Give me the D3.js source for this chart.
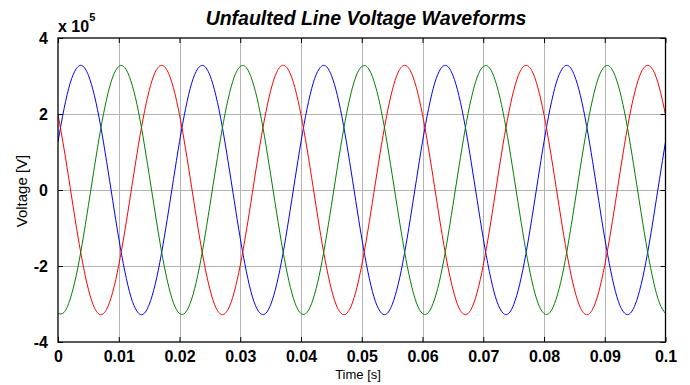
<!DOCTYPE html>
<html>
<head>
<meta charset="utf-8">
<script src="https://cdn.jsdelivr.net/npm/d3@7"></script>
<style>
  html, body { margin: 0; padding: 0; background: #ffffff; }
  svg { display: block; }
</style>
</head>
<body>
<svg id="chart" width="690" height="385"></svg>
<script>
// ---- data (voltage in units of 1e5 V, sampled every 1 ms from t = 0 to 0.1 s) ----
const sampleStep = 0.001;
const phaseA = [
  1.27, 2.14, 2.81, 3.19, 3.27, 3.02, 2.48, 1.70, 0.75, -0.27, -1.27, -2.14, -2.81, -3.19, -3.27, -3.02, -2.48, -1.70, -0.75, 0.27,
  1.27, 2.14, 2.81, 3.19, 3.27, 3.02, 2.48, 1.70, 0.75, -0.27, -1.27, -2.14, -2.81, -3.19, -3.27, -3.02, -2.48, -1.70, -0.75, 0.27,
  1.27, 2.14, 2.81, 3.19, 3.27, 3.02, 2.48, 1.70, 0.75, -0.27, -1.27, -2.14, -2.81, -3.19, -3.27, -3.02, -2.48, -1.70, -0.75, 0.27,
  1.27, 2.14, 2.81, 3.19, 3.27, 3.02, 2.48, 1.70, 0.75, -0.27, -1.27, -2.14, -2.81, -3.19, -3.27, -3.02, -2.48, -1.70, -0.75, 0.27,
  1.27, 2.14, 2.81, 3.19, 3.27, 3.02, 2.48, 1.70, 0.75, -0.27, -1.27, -2.14, -2.81, -3.19, -3.27, -3.02, -2.48, -1.70, -0.75, 0.27,
  1.27
];
const phaseB = [
  1.98, 1.08, 0.07, -0.95, -1.87, -2.61, -3.10, -3.28, -3.14, -2.69, -1.98, -1.08, -0.07, 0.95, 1.87, 2.61, 3.10, 3.28, 3.14, 2.69,
  1.98, 1.08, 0.07, -0.95, -1.87, -2.61, -3.10, -3.28, -3.14, -2.69, -1.98, -1.08, -0.07, 0.95, 1.87, 2.61, 3.10, 3.28, 3.14, 2.69,
  1.98, 1.08, 0.07, -0.95, -1.87, -2.61, -3.10, -3.28, -3.14, -2.69, -1.98, -1.08, -0.07, 0.95, 1.87, 2.61, 3.10, 3.28, 3.14, 2.69,
  1.98, 1.08, 0.07, -0.95, -1.87, -2.61, -3.10, -3.28, -3.14, -2.69, -1.98, -1.08, -0.07, 0.95, 1.87, 2.61, 3.10, 3.28, 3.14, 2.69,
  1.98, 1.08, 0.07, -0.95, -1.87, -2.61, -3.10, -3.28, -3.14, -2.69, -1.98, -1.08, -0.07, 0.95, 1.87, 2.61, 3.10, 3.28, 3.14, 2.69,
  1.98
];
const phaseC = [
  -3.25, -3.22, -2.87, -2.25, -1.40, -0.41, 0.61, 1.58, 2.39, 2.97, 3.25, 3.22, 2.87, 2.25, 1.40, 0.41, -0.61, -1.58, -2.39, -2.97,
  -3.25, -3.22, -2.87, -2.25, -1.40, -0.41, 0.61, 1.58, 2.39, 2.97, 3.25, 3.22, 2.87, 2.25, 1.40, 0.41, -0.61, -1.58, -2.39, -2.97,
  -3.25, -3.22, -2.87, -2.25, -1.40, -0.41, 0.61, 1.58, 2.39, 2.97, 3.25, 3.22, 2.87, 2.25, 1.40, 0.41, -0.61, -1.58, -2.39, -2.97,
  -3.25, -3.22, -2.87, -2.25, -1.40, -0.41, 0.61, 1.58, 2.39, 2.97, 3.25, 3.22, 2.87, 2.25, 1.40, 0.41, -0.61, -1.58, -2.39, -2.97,
  -3.25, -3.22, -2.87, -2.25, -1.40, -0.41, 0.61, 1.58, 2.39, 2.97, 3.25, 3.22, 2.87, 2.25, 1.40, 0.41, -0.61, -1.58, -2.39, -2.97,
  -3.25
];
const xTicks = [0, 0.01, 0.02, 0.03, 0.04, 0.05, 0.06, 0.07, 0.08, 0.09, 0.1];
const xTickLabels = ["0", "0.01", "0.02", "0.03", "0.04", "0.05", "0.06", "0.07", "0.08", "0.09", "0.1"];
const yTicks = [-4, -2, 0, 2, 4];
const yTickLabels = ["-4", "-2", "0", "2", "4"];
const titleText = "Unfaulted Line Voltage Waveforms";
const xLabelText = "Time [s]";
const yLabelText = "Voltage [V]";

// ---- layout ----
const plot = { left: 58, right: 665.5, top: 38, bottom: 342 };
const svg = d3.select("#chart");
svg.append("rect").attr("width", 690).attr("height", 385).attr("fill", "#ffffff");

const x = d3.scaleLinear().domain([0, 0.1]).range([plot.left, plot.right]);
const y = d3.scaleLinear().domain([-4, 4]).range([plot.bottom, plot.top]);

const tickFont = "'Liberation Sans', Arial, Helvetica, sans-serif";

// grid
const grid = svg.append("g").attr("stroke", "#b4b4b4").attr("stroke-width", 1);
grid.selectAll("line.gx").data(xTicks.slice(1, -1)).enter().append("line")
  .attr("x1", d => Math.round(x(d)) + 0.5).attr("x2", d => Math.round(x(d)) + 0.5)
  .attr("y1", plot.top).attr("y2", plot.bottom);
grid.selectAll("line.gy").data(yTicks.slice(1, -1)).enter().append("line")
  .attr("x1", plot.left).attr("x2", plot.right)
  .attr("y1", d => Math.round(y(d)) + 0.5).attr("y2", d => Math.round(y(d)) + 0.5);

// series
const line = d3.line()
  .x((d, i) => x(i * sampleStep))
  .y(d => y(d))
  .curve(d3.curveNatural);
const series = [
  { values: phaseA, color: "#0000ff" },
  { values: phaseB, color: "#ff0000" },
  { values: phaseC, color: "#008000" }
];
svg.append("defs").append("clipPath").attr("id", "clip")
  .append("rect").attr("x", plot.left).attr("y", plot.top)
  .attr("width", plot.right - plot.left).attr("height", plot.bottom - plot.top);
svg.append("g").attr("clip-path", "url(#clip)")
  .selectAll("path").data(series).enter().append("path")
  .attr("d", d => line(d.values))
  .attr("fill", "none")
  .attr("stroke", d => d.color)
  .attr("stroke-width", 1);

// axes (inward ticks on all four sides)
const tickLen = 5;
const axBottom = d3.axisBottom(x).tickValues(xTicks).tickSize(-tickLen).tickPadding(9)
  .tickFormat((d, i) => xTickLabels[i]);
const axTop = d3.axisTop(x).tickValues(xTicks).tickSize(-tickLen).tickFormat("");
const axLeft = d3.axisLeft(y).tickValues(yTicks).tickSize(-tickLen).tickPadding(10)
  .tickFormat((d, i) => yTickLabels[i]);
const axRight = d3.axisRight(y).tickValues(yTicks).tickSize(-tickLen).tickFormat("");

function styleAxis(g) {
  g.select(".domain").remove();
  g.selectAll(".tick line").attr("stroke", "#000000");
  g.selectAll(".tick text")
    .attr("fill", "#000000")
    .style("font-family", tickFont)
    .style("font-size", "16px")
    .style("font-weight", "bold");
}
svg.append("g").attr("transform", `translate(0,${plot.bottom})`).call(axBottom).call(styleAxis);
svg.append("g").attr("transform", `translate(0,${plot.top})`).call(axTop).call(styleAxis);
svg.append("g").attr("transform", `translate(${plot.left},0)`).call(axLeft).call(styleAxis);
svg.append("g").attr("transform", `translate(${plot.right},0)`).call(axRight).call(styleAxis);

// box
svg.append("rect")
  .attr("x", plot.left).attr("y", plot.top)
  .attr("width", plot.right - plot.left).attr("height", plot.bottom - plot.top)
  .attr("fill", "none").attr("stroke", "#000000").attr("stroke-width", 1.3);

// exponent label
const expo = svg.append("text")
  .attr("x", plot.left).attr("y", 32)
  .style("font-family", tickFont).style("font-weight", "bold").style("font-size", "16px")
  .attr("fill", "#000000");
expo.append("tspan").text("x 10");
expo.append("tspan").attr("dy", -11).style("font-size", "11px").text("5");

// title
svg.append("text")
  .attr("x", 366).attr("y", 25)
  .attr("text-anchor", "middle")
  .style("font-family", tickFont).style("font-weight", "bold").style("font-style", "italic")
  .style("font-size", "19.5px")
  .attr("fill", "#000000")
  .text(titleText);

// x label
svg.append("text")
  .attr("x", 358).attr("y", 379)
  .attr("text-anchor", "middle")
  .style("font-family", tickFont).style("font-size", "13px")
  .attr("fill", "#000000")
  .text(xLabelText);

// y label
svg.append("text")
  .attr("transform", "translate(27,191) rotate(-90)")
  .attr("text-anchor", "middle")
  .style("font-family", tickFont).style("font-size", "15px")
  .attr("fill", "#000000")
  .text(yLabelText);
</script>
</body>
</html>
